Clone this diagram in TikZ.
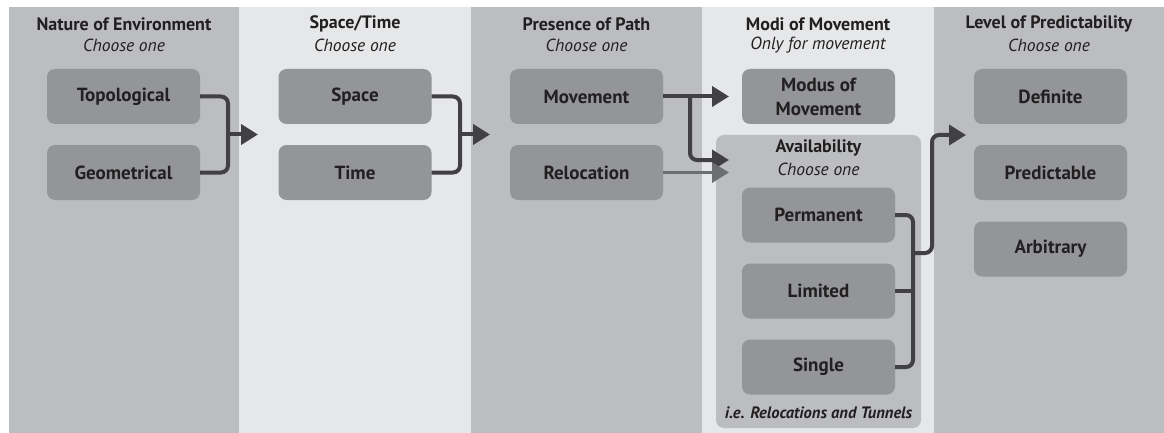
\documentclass[tikz,border=0pt]{standalone}
\usepackage{fontspec}
\setmainfont{PT Sans}
\usetikzlibrary{arrows.meta,calc}
\definecolor{bgdark}{HTML}{BCBDC0}
\definecolor{bglight}{HTML}{E6E7E8}
\definecolor{boxfill}{HTML}{939598}
\definecolor{arrowc}{HTML}{414042}
\definecolor{arrowl}{HTML}{6D6E71}
\definecolor{txt}{HTML}{231F20}
\tikzset{
  optbox/.style={fill=boxfill, rounded corners=8pt, minimum width=153pt, minimum height=55pt,
    inner sep=0pt, align=center, text=txt, font=\fontsize{19}{24}\selectfont\bfseries},
  coltitle/.style={text=txt, font=\fontsize{18}{19}\selectfont\bfseries, inner sep=0pt},
  colsub/.style={text=txt, font=\fontsize{17.5}{18}\selectfont\itshape, inner sep=0pt},
  conn/.style={draw=arrowc, line width=4pt, rounded corners=7pt},
  arr/.style={conn, -{Triangle[length=17pt,width=20pt]}},
  arrlight/.style={draw=arrowl, line width=3.5pt, -{Triangle[length=17pt,width=20pt]}},
}
\begin{document}
\begin{tikzpicture}[x=1pt,y=-1pt]
\useasboundingbox (0,0) rectangle (1164,433);
\fill[white] (0,0) rectangle (1164,433);
% columns
\fill[bgdark] (9,7) rectangle (239,433);
\fill[bglight] (239,7) rectangle (471,433);
\fill[bgdark] (471,7) rectangle (702,433);
\fill[bglight] (702,7) rectangle (934,433);
\fill[bgdark] (934,7) rectangle (1164,433);
% availability container
\fill[bgdark, rounded corners=8pt] (716,135) rectangle (921,428);
% headers
\node[coltitle] (h1) at (124,24) {Nature of Environment};
\node[colsub] (s1) at (124,45) {Choose one};
\node[coltitle] (h2) at (355,24) {Space/Time};
\node[colsub] (s2) at (355,45) {Choose one};
\node[coltitle] (h3) at (586.5,24) {Presence of Path};
\node[colsub] (s3) at (586.5,45) {Choose one};
\node[coltitle] (h4) at (818,24) {Modi of Movement};
\node[colsub] (s4) at (818,45) {Only for movement};
\node[coltitle] (h5) at (1049,24) {Level of Predictability};
\node[colsub] (s5) at (1049,45) {Choose one};
\node[coltitle] (h6) at (818.5,148) {Availability};
\node[colsub] (s6) at (818.5,169) {Choose one};
\node[text=txt, font=\fontsize{16.5}{17}\selectfont\bfseries\itshape, inner sep=0pt] (note) at (818.5,413) {i.e. Relocations and Tunnels};
% boxes
\node[optbox] (topo) at (123.5,96.5) {Topological};
\node[optbox] (geo) at (123.5,172.5) {Geometrical};
\node[optbox] (space) at (355,96.5) {Space};
\node[optbox] (time) at (355,172.5) {Time};
\node[optbox] (mov) at (586.5,96.5) {Movement};
\node[optbox] (reloc) at (586.5,172.5) {Relocation};
\node[optbox] (modus) at (818.5,96.5) {Modus of\\Movement};
\node[optbox] (perm) at (818.5,215) {Permanent};
\node[optbox] (lim) at (818.5,291) {Limited};
\node[optbox] (single) at (818.5,367) {Single};
\node[optbox] (def) at (1050.5,96.5) {Definite};
\node[optbox] (pred) at (1050.5,172.5) {Predictable};
\node[optbox] (arb) at (1050.5,249) {Arbitrary};
% junction coordinates
\coordinate (j1) at (228,134.5);
\coordinate (t1) at (258,134.5);
\coordinate (j2) at (460,134.5);
\coordinate (t2) at (490,134.5);
\coordinate (b3) at (690,96.5);
\coordinate (t3a) at (729,96.5);
\coordinate (t3b) at (729,160);
\coordinate (t3c) at (729,172.5);
\coordinate (j4) at (913,253);
\coordinate (t4) at (966,135);
% connectors col1
\draw[conn] (topo.east) -| (j1) |- (geo.east);
\draw[arr, rounded corners=0pt] (j1) -- (t1);
% col2
\draw[conn] (space.east) -| (j2) |- (time.east);
\draw[arr, rounded corners=0pt] (j2) -- (t2);
% col3
\draw[arr, rounded corners=0pt] (mov.east) -- (t3a);
\draw[arr] (b3) |- (t3b);
\draw[arrlight] (reloc.east) -- (t3c);
% availability
\draw[conn] (perm.east) -| (j4) |- (single.east);
\draw[conn, rounded corners=0pt] (lim.east) -- (lim.east -| j4);
\draw[arr] (j4) -| (932,135) -- (t4);
\end{tikzpicture}
\end{document}
